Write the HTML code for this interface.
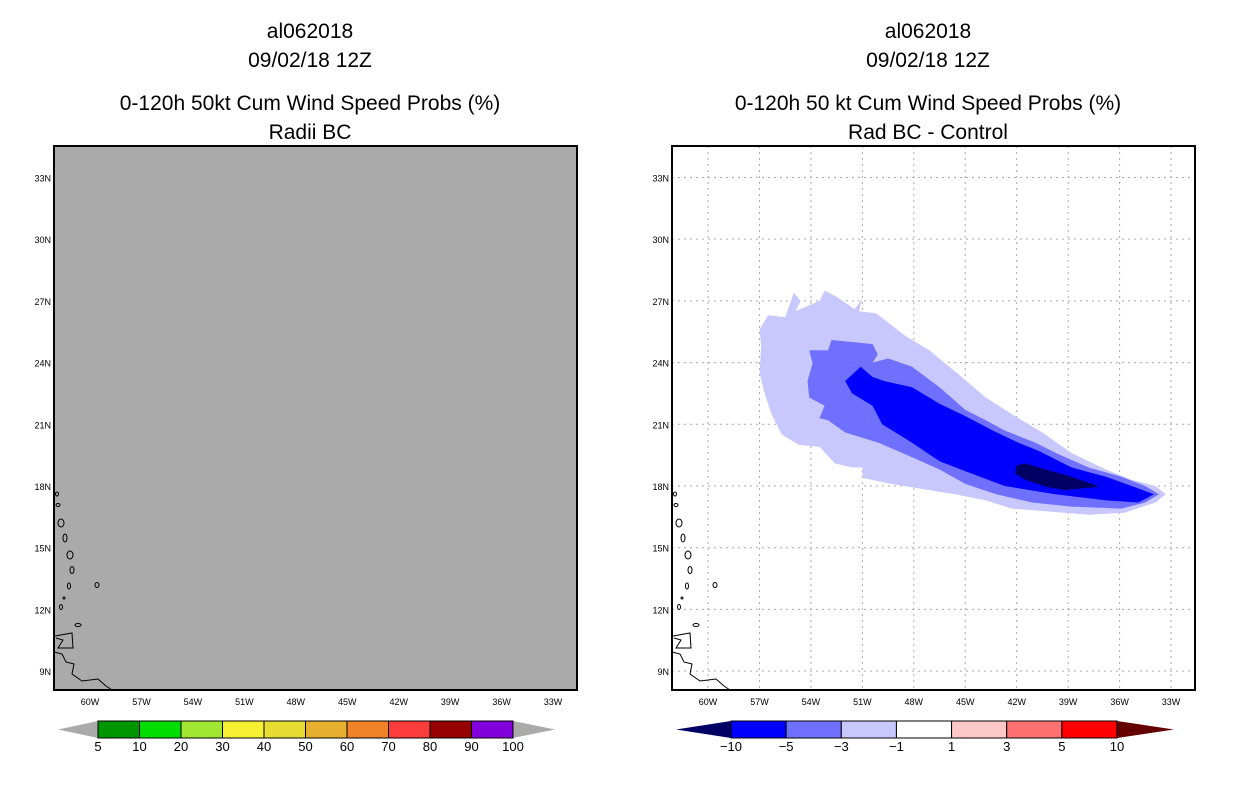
<!DOCTYPE html>
<html><head><meta charset="utf-8"><style>
body{margin:0;background:#fff;width:1236px;height:800px;overflow:hidden}
svg text{font-family:"Liberation Sans",sans-serif;fill:#000}
</style></head><body>
<svg id="chart" width="1236" height="800" xmlns="http://www.w3.org/2000/svg">
<g id="titles" font-size="21" text-anchor="middle">
<text x="310" y="38">al062018</text>
<text x="310" y="67">09/02/18 12Z</text>
<text x="310" y="110">0-120h 50kt Cum Wind Speed Probs (%)</text>
<text x="310" y="139">Radii BC</text>
<text x="928" y="38">al062018</text>
<text x="928" y="67">09/02/18 12Z</text>
<text x="928" y="110">0-120h 50 kt Cum Wind Speed Probs (%)</text>
<text x="928" y="139">Rad BC - Control</text>
</g>
<rect x="54" y="146" width="523" height="544" fill="#aaaaaa"/>
<rect x="672" y="146" width="523" height="544" fill="#fff"/>
<g id="right-grid"></g>
<g id="contours"></g>
<g id="axes"></g>
<rect x="54" y="146" width="523" height="544" fill="none" stroke="#000" stroke-width="2"/>
<rect x="672" y="146" width="523" height="544" fill="none" stroke="#000" stroke-width="2"/>
<g id="cbars"></g>
</svg>
<script>
const latTicks=[33,30,27,24,21,18,15,12,9];
const lonTicks=[60,57,54,51,48,45,42,39,36,33];
const probLevels=["5","10","20","30","40","50","60","70","80","90","100"];
const probColors=["#009600","#00dc00","#a0e632","#f5f032","#e6dc32","#e6af2d","#f08228","#fa3c3c","#960000","#8200dc"];
const diffLabels=["-10","-5","-3","-1","1","3","5","10"];
const diffColors=["#0000ff","#7070ff","#c8c8ff","#ffffff","#ffc8c8","#ff7070","#ff0000"];
const lightRegion=[[55.0,27.4],[54.6,27.0],[54.9,26.5],[53.5,27.0],[53.2,27.5],[52.5,27.2],[51.45,26.6],[51.0,27.1],[51.2,26.5],[50.2,26.4],[48.5,25.3],[47.1,24.6],[45.2,23.3],[43.8,22.3],[42.1,21.4],[40.5,20.6],[38.8,19.6],[36.8,18.8],[35.3,18.3],[33.9,18.0],[33.3,17.6],[33.9,17.2],[35.7,16.7],[37.8,16.6],[40.7,16.8],[42.3,16.9],[43.8,17.3],[45.6,17.6],[47.1,17.8],[49.3,18.1],[51.0,18.4],[51.0,18.9],[51.6,18.9],[52.6,19.1],[53.5,19.9],[54.7,20.0],[55.7,20.5],[56.3,21.5],[56.7,22.5],[57.0,23.5],[56.9,24.8],[57.0,25.6],[56.5,26.3],[55.5,26.2]];
const mediumRegion=[[54.1,24.6],[53.0,24.6],[52.8,25.1],[51.6,25.0],[50.4,24.9],[50.1,24.4],[50.4,24.0],[49.5,24.2],[48.1,23.8],[46.5,22.8],[45.0,21.7],[43.8,21.2],[42.7,20.7],[40.9,20.1],[39.7,19.6],[37.8,18.9],[35.9,18.45],[34.5,18.0],[33.7,17.6],[34.5,17.2],[35.9,16.9],[38.8,17.0],[41.1,17.2],[43.2,17.6],[45.0,18.1],[46.5,18.8],[48.1,19.4],[50.05,20.1],[52.0,20.6],[53.0,21.2],[53.5,21.3],[53.2,21.9],[54.1,22.3],[54.2,23.1],[53.9,23.96]];
const darkRegion=[[52.0,23.1],[51.1,23.8],[50.4,23.3],[49.7,23.1],[48.1,22.8],[46.5,22.0],[45.0,21.4],[43.4,20.7],[41.9,20.1],[40.7,19.7],[38.8,18.9],[36.8,18.45],[35.3,18.0],[34.0,17.6],[34.9,17.2],[36.8,17.3],[39.75,17.6],[42.7,18.0],[44.6,18.6],[46.5,19.2],[48.1,20.1],[49.85,21.0],[50.4,21.9],[51.6,22.5]];
const navyRegion=[[42.0,19.0],[41.5,19.1],[40.3,18.8],[39.0,18.5],[37.6,18.1],[37.2,17.96],[39.2,17.8],[40.3,17.96],[41.5,18.3],[42.1,18.6]];

const NS="http://www.w3.org/2000/svg";
const svg=document.getElementById('chart');
function mk(t,a,p){const e=document.createElementNS(NS,t);for(const k in a)e.setAttribute(k,a[k]);(p||svg).appendChild(e);return e;}
// off = panel shift (0 left, 618 right)
function xS(lonW,off){return off+90+(60-lonW)*17.15;}
function yS(lat){return 486-(lat-18)*20.57;}
const panels=[0,618];
const axes=document.getElementById('axes');
panels.forEach(off=>{
  latTicks.forEach(v=>{
    const t=mk('text',{x:off+51,y:yS(v)+4,'font-size':9,'text-anchor':'end'},axes);t.textContent=v+'N';
    
    
  });
  lonTicks.forEach(v=>{
    const t=mk('text',{x:xS(v,off),y:705,'font-size':9,'text-anchor':'middle'},axes);t.textContent=v+'W';
    
    
  });
  const g=mk('g',{transform:'translate('+off+',0)',fill:'none',stroke:'#000','stroke-width':1},axes);
  
  
  [[57,494,1.5,2],[58,505,2,1.5],[61,523,3,4],[65,538,2,4],[70,555,3,4],[72,570,2,3.5],[69,586,1.5,3],[97,585,2,2.5],[64,598,1,1],[61,607,1.5,2.5],[78,625,3,1.5]].forEach(c=>mk('ellipse',{cx:c[0],cy:c[1],rx:c[2],ry:c[3]},g));
  mk('path',{d:'M55,636 L72,633 L73,648 L58,648 L63,640 L56,638 M54,652 L62,654 L66,662 L74,664 L72,674 L82,681 L98,679 L106,686 L112,690'},g);
});
const grid=document.getElementById('right-grid');
latTicks.forEach(v=>mk('line',{x1:672,x2:1195,y1:yS(v),y2:yS(v),stroke:'#aaa','stroke-dasharray':'2,4'},grid));
lonTicks.forEach(v=>mk('line',{x1:xS(v,618),x2:xS(v,618),y1:146,y2:690,stroke:'#aaa','stroke-dasharray':'2,4'},grid));
const cg=document.getElementById('contours');
[[lightRegion,'#c8c8ff','contour-minus1-to-minus3'],[mediumRegion,'#7070ff','contour-minus3-to-minus5'],[darkRegion,'#0000ff','contour-minus5-to-minus10'],[navyRegion,'#000064','contour-below-minus10']].forEach(r=>{
  const pts=r[0].map(p=>xS(p[0],618).toFixed(1)+','+yS(p[1]).toFixed(1)).join(' ');
  const e=mk('polygon',{points:pts,fill:r[1]},cg);
  
  
});
const cb=document.getElementById('cbars');
const y0=721,y1=738;
{
  const x0=98,x1=513,w=(x1-x0)/probColors.length;
  mk('polygon',{points:`58,729.5 ${x0},${y0} ${x0},${y1}`,fill:'#aaa'},cb);
  mk('polygon',{points:`555,729.5 ${x1},${y0} ${x1},${y1}`,fill:'#aaa'},cb);
  probColors.forEach((c,i)=>{const r=mk('rect',{x:x0+i*w,y:y0,width:w,height:y1-y0,fill:c,stroke:'#000'},cb);
    
    });
  probLevels.forEach((l,i)=>{const t=mk('text',{x:x0+i*w,y:751,'font-size':13,'text-anchor':'middle'},cb);t.textContent=l;
    
    });
}
{
  const x0=731,x1=1117,w=(x1-x0)/diffColors.length;
  mk('polygon',{points:`676,729.5 ${x0},${y0} ${x0},${y1}`,fill:'#000064'},cb);
  mk('polygon',{points:`1174,729.5 ${x1},${y0} ${x1},${y1}`,fill:'#640000'},cb);
  diffColors.forEach((c,i)=>{const r=mk('rect',{x:x0+i*w,y:y0,width:w,height:y1-y0,fill:c,stroke:'#000'},cb);
    
    });
  diffLabels.forEach((l,i)=>{const t=mk('text',{x:x0+i*w,y:751,'font-size':13,'text-anchor':'middle'},cb);t.textContent=l.replace('-','\u2212');
    
    });
}
</script>
</body></html>
